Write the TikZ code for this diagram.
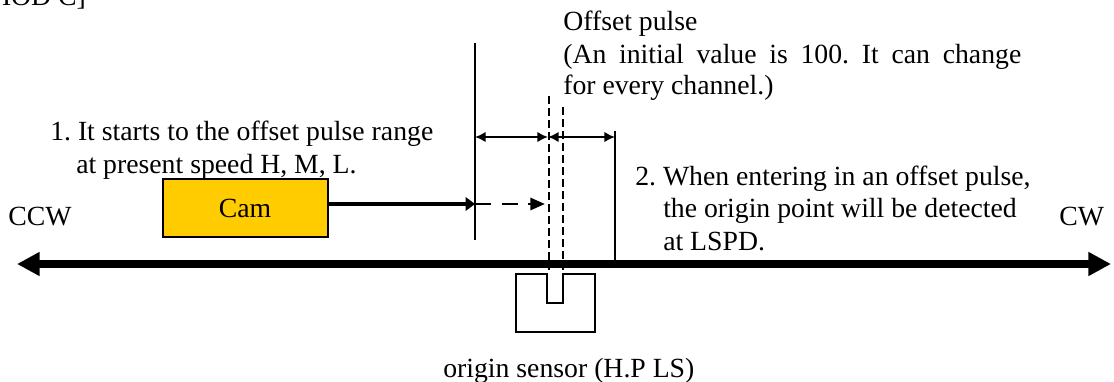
\documentclass[tikz,border=0pt]{standalone}
\usepackage{fontspec}
\setmainfont{Liberation Serif}
\usetikzlibrary{arrows.meta}
\definecolor{camfill}{RGB}{255,204,0}
\tikzset{
  every node/.style={font=\fontsize{20.8}{25}\selectfont\frenchspacing, inner sep=0pt},
  txt/.style={anchor=base west},
  axisline/.style={line width=6pt, {Triangle[width=17pt,length=17pt]}-{Triangle[width=17pt,length=17pt]}},
  thinline/.style={line width=1.1pt},
  dashline/.style={line width=1pt, dash pattern=on 6pt off 3pt},
  dimline/.style={line width=2pt, {Latex[length=8pt,width=8pt]}-{Latex[length=8pt,width=8pt]}},
}
\begin{document}
\begin{tikzpicture}[x=0.75pt, y=-0.75pt]
  \useasboundingbox (0,0) rectangle (1114,382);

  \coordinate (axisL) at (17,264);
  \coordinate (axisR) at (1111,264);
  \coordinate (rangeLtop) at (475,43);
  \coordinate (rangeLbot) at (475,240);
  \coordinate (rangeRtop) at (615,131);
  \coordinate (rangeRbot) at (615,264);
  \coordinate (slitAtop) at (549,96);
  \coordinate (slitAbot) at (549,270);
  \coordinate (slitBtop) at (563,107);
  \coordinate (slitBbot) at (563,270);
  \coordinate (dimL) at (475,137);
  \coordinate (dimM) at (548,137);
  \coordinate (dimR) at (615,137);
  \coordinate (camEnd) at (475,204);
  \coordinate (dashEnd) at (545,204);
  \coordinate (camStart) at (329,204);

  % top line, cut off by the page
  \node[txt] (title) at (-77,5) {[METHOD C]};

  \node[draw, line width=1.5pt, fill=camfill, minimum width=123.75pt, minimum height=43.5pt] (cam)
    at (245,208) {Cam};

  \draw[axisline] (axisL) -- (axisR);
  \draw[thinline] (rangeLtop) -- (rangeLbot);
  \draw[thinline] (rangeRtop) -- (rangeRbot);
  \draw[dashline] (slitAtop) -- (slitAbot);
  \draw[dashline] (slitBtop) -- (slitBbot);
  \draw[dimline] (dimL) -- (dimM);
  \draw[dimline] (dimM) -- (dimR);
  \draw[line width=3pt, -{Triangle[length=7pt,width=10pt]}] (camStart) -- (camEnd);
  \draw[line width=2.2pt, dash pattern=on 12pt off 8pt, -{Triangle[length=11pt,width=9pt]}] (camEnd) -- (dashEnd);

  % origin sensor
  \draw[thinline] (516,274) -- (547,274) -- (547,303) -- (563,303) -- (563,274)
    -- (595,274) -- (595,332) -- (516,332) -- cycle;

  \node[txt] (offset) at (563,31) {Offset pulse};
  \node[txt] (offset2) at (563,63) {\makebox[343.5pt][s]{(An initial value is 100. It can change}};
  \node[txt] (offset3) at (563,94) {for every channel.)};
  \node[txt] (stepone) at (50,140) {1. It starts to the offset pulse range};
  \node[txt] (stepone2) at (76,173) {at present speed H, M, L.};
  \node[txt] (steptwo) at (635,185) {2. When entering in an offset pulse,};
  \node[txt] (steptwo2) at (663,217) {the origin point will be detected};
  \node[txt] (steptwo3) at (663,250) {at LSPD.};
  \node[txt] (ccw) at (8,225) {CCW};
  \node[txt] (cw) at (1059,225) {CW};
  \node[txt] (sensor) at (443,377) {origin sensor (H.P LS)};
\end{tikzpicture}
\end{document}
